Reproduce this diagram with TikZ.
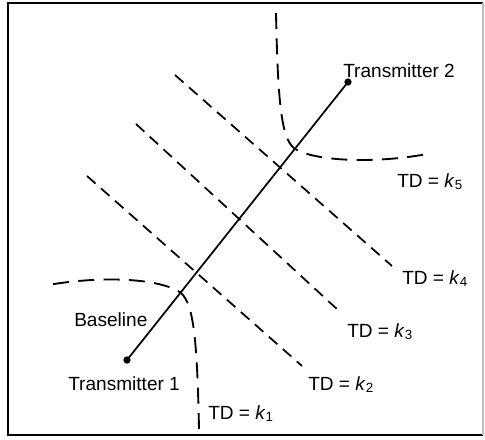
\documentclass[tikz,border=0pt]{standalone}
\usepackage{fontspec}
\setmainfont{Liberation Sans}
\begin{document}
\begin{tikzpicture}[x=0.75pt,y=-0.75pt,
  lbl/.style={anchor=base west,inner sep=0pt,font=\fontsize{14.3}{17}\selectfont},
  dot/.style={circle,fill=black,inner sep=0pt,minimum size=5.5pt},
  baseln/.style={line width=1.3pt},
  tdline/.style={line width=1.3pt,dash pattern=on 8.5pt off 5.5pt},
  tdcurve/.style={line width=1.4pt,dash pattern=on 12pt off 7pt},
  frameln/.style={line width=1.1pt}]
\useasboundingbox (0,0) rectangle (485,439);
% frame
\coordinate (fa) at (8,3);
\coordinate (fb) at (483,3);
\coordinate (fc) at (483,435);
\coordinate (fd) at (8,435);
\draw[frameln] (fb) -- (fa) -- (fd) -- (fc);
\draw[frameln,black!25] (fb) -- (fc);
% transmitters and baseline
\node[dot] (t1) at (127,360) {};
\node[dot] (t2) at (348,82) {};
\draw[baseln] (t1.center) -- (t2.center);
% straight TD lines
\coordinate (k4a) at (175,75);  \coordinate (k4b) at (392,266);
\coordinate (k3a) at (136,124); \coordinate (k3b) at (338,310);
\coordinate (k2a) at (87,176);  \coordinate (k2b) at (302,366);
\draw[tdline] (k4a) -- (k4b);
\draw[tdline] (k3a) -- (k3b);
\draw[tdline] (k2a) -- (k2b);
% curved TD lines
\coordinate (k5a) at (276,13);  \coordinate (k5b) at (427,154);
\coordinate (k1a) at (199,429); \coordinate (k1b) at (48,285);
\draw[tdcurve] (k5a) .. controls (278,110) and (282,143) .. (297,150)
  .. controls (320,162) and (380,163) .. (k5b);
\draw[tdcurve] (k1a) .. controls (197,332) and (193,299) .. (178,291)
  .. controls (155,278) and (100,276) .. (k1b);
% labels
\node[lbl] (lt2) at (343,77) {Transmitter 2};
\node[lbl] (lt1) at (68,390) {Transmitter 1};
\node[lbl] (lbs) at (74,326) {Baseline};
\node[lbl] (l5) at (397,187) {TD = \textit{k}\textsubscript{5}};
\node[lbl] (l4) at (402,284) {TD = \textit{k}\textsubscript{4}};
\node[lbl] (l3) at (347,337) {TD = \textit{k}\textsubscript{3}};
\node[lbl] (l2) at (308,390) {TD = \textit{k}\textsubscript{2}};
\node[lbl] (l1) at (208,419) {TD = \textit{k}\textsubscript{1}};
\end{tikzpicture}
\end{document}
